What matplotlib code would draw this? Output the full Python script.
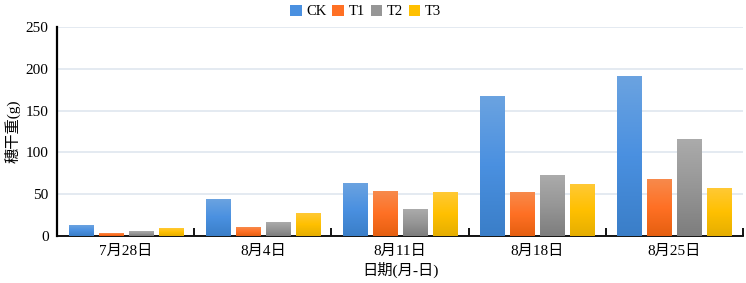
import numpy as np
import matplotlib.pyplot as plt
from matplotlib.colors import LinearSegmentedColormap
from matplotlib.patches import Patch

plt.rcParams['font.family'] = ['Liberation Serif', 'Noto Sans CJK SC']

# data
dates = ['7月28日', '8月4日', '8月11日', '8月18日', '8月25日']
series = ['CK', 'T1', 'T2', 'T3']
ck = [13, 44, 63, 167, 191]
t1 = [3.5, 10, 53, 52, 68]
t2 = [5, 16, 32, 72, 115]
t3 = [9, 27, 52, 61, 57]

# gradient colours (top, middle, bottom)
grads = [['#6ba3e0', '#4a90e0', '#3a7ec8'],
         ['#f78a4c', '#ff7024', '#e55f10'],
         ['#ababab', '#969696', '#7d7d7d'],
         ['#ffc935', '#ffc000', '#e5ae00']]
flat = ['#4a90e0', '#ff7024', '#969696', '#ffc000']

fig = plt.figure(figsize=(7.46, 2.83), dpi=100)
ax = fig.add_axes([0.0764, 0.166, 0.9196, 0.739])

x = np.arange(len(dates))
step = 0.219
width = 0.175
grad = np.linspace(0, 1, 256).reshape(-1, 1)
for i, vals in enumerate([ck, t1, t2, t3]):
    # invisible bars give the geometry, the gradient image fills them
    bars = ax.bar(x + (i - 1.5) * step, vals, width, color='none',
                  edgecolor='none', zorder=2)
    cmap = LinearSegmentedColormap.from_list('g%d' % i, grads[i][::-1])
    for b in bars:
        x0, y0 = b.get_x(), b.get_y()
        ax.imshow(grad, extent=[x0, x0 + b.get_width(), y0, y0 + b.get_height()],
                  origin='lower', cmap=cmap, aspect='auto', zorder=3,
                  interpolation='nearest')

ax.set_xlim(-0.5, len(dates) - 0.5)
ax.set_ylim(0, 250)
ax.set_yticks(range(0, 251, 50))
ax.yaxis.grid(True, color='#dfe6ef', lw=1.2, zorder=0)
ax.set_axisbelow(True)

ax.set_xticks(x)
ax.set_xticklabels(dates, fontsize=11)
ax.set_xticks(np.arange(-0.5, len(dates), 1), minor=True)
ax.tick_params(axis='x', which='major', length=0, pad=6)
ax.tick_params(axis='x', which='minor', direction='in', length=6, width=1.3)
ax.tick_params(axis='y', length=0, labelsize=11, pad=6)

for s in ['top', 'right']:
    ax.spines[s].set_visible(False)
ax.spines['left'].set_linewidth(1.6)
ax.spines['bottom'].set_linewidth(1.3)

ax.set_ylabel('穗干重(g)', fontsize=11, labelpad=4)
ax.set_xlabel('日期(月-日)', fontsize=11, labelpad=3)

handles = [Patch(facecolor=flat[i]) for i in range(4)]
fig.legend(handles, series, loc='upper center', bbox_to_anchor=(0.49, 1.03),
           ncol=4, frameon=False, fontsize=10.5, handlelength=0.8,
           handleheight=0.8, handletextpad=0.3, columnspacing=0.4)

fig.savefig('out.png')
